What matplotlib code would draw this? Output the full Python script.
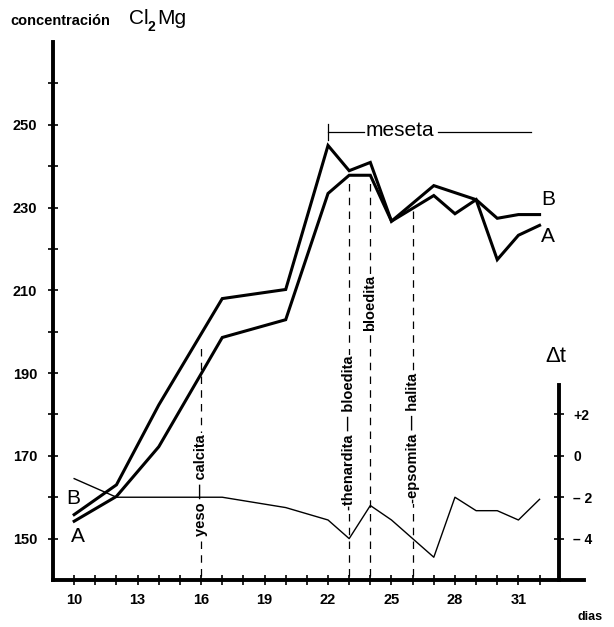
import matplotlib
matplotlib.use('Agg')
import matplotlib.pyplot as plt

plt.rcParams['font.family'] = ['Liberation Sans', 'DejaVu Sans']

# concentracion Cl2Mg, serie A y serie B
dias_b = [10, 12, 14, 17, 20, 22, 23, 24, 25, 26, 27, 29, 30, 31, 32]
conc_b = [155.8, 163, 182.3, 208, 210.2, 245, 238.9, 240.9, 226.7, 231, 235.3, 231.9, 227.4, 228.3, 228.3]
dias_a = [10, 12, 14, 17, 20, 22, 23, 24, 25, 26, 27, 28, 29, 30, 31, 32]
conc_a = [154.2, 160.2, 172.2, 198.6, 202.9, 233.4, 237.8, 237.8, 226.7, 229.8, 232.9, 228.5, 231.9, 217.4, 223.3, 225.7]

# delta t (eje derecho)
dias_dt = [10, 12, 17, 20, 22, 23, 24, 25, 26, 27, 28, 29, 30, 31, 32]
delta_t = [-1.1, -2, -2, -2.5, -3.1, -4, -2.4, -3.1, -4, -4.9, -2, -2.65, -2.65, -3.1, -2.1]

# lineas verticales de precipitacion
dias_sal = [16, 23, 24, 26]
tope_sal = [197, 236.5, 236.5, 230]
texto_sal = ['yeso \u2014 calcita', '-thenardita \u2014 bloedita', 'bloedita', '-epsomita \u2014 halita']
y_texto_sal = [163, 175.5, 207, 174.3]

xticks_lab = [10, 13, 16, 19, 22, 25, 28, 31]
yticks_lab = [150, 170, 190, 210, 230, 250]
dt_ticks = [2, 0, -2, -4]
dt_labels = ['+2', '0', '\u2013 2', '\u2013 4']

fig = plt.figure(figsize=(6.14, 6.27), dpi=100)
ax = fig.add_axes([53/614, 1-580/627, (584-53)/614, (580-42)/627])
ax.set_xlim(9.0, 34.1)
ax.set_ylim(140, 270)

for s in ['top', 'right']:
    ax.spines[s].set_visible(False)
for s in ['left', 'bottom']:
    ax.spines[s].set_linewidth(2.8)

ax.set_xticks(range(10, 33), minor=True)
ax.set_xticks(xticks_lab)
ax.set_xticklabels([str(v) for v in xticks_lab], fontweight='bold', fontsize=10.5)
ax.set_yticks(range(150, 270, 10), minor=True)
ax.set_yticks(yticks_lab)
ax.set_yticklabels([str(v) for v in yticks_lab], fontweight='bold', fontsize=10.5)
ax.tick_params(which='both', direction='inout', length=7, width=1.2, color='black')
ax.tick_params(axis='x', pad=6)
ax.tick_params(axis='y', pad=8)

ax.plot(dias_b, conc_b, color='black', lw=2.2, solid_joinstyle='miter')
ax.plot(dias_a, conc_a, color='black', lw=2.2, solid_joinstyle='miter')

# lineas discontinuas y nombres de sales
for d, t, txt, yt in zip(dias_sal, tope_sal, texto_sal, y_texto_sal):
    ax.plot([d, d], [141, t], color='black', lw=0.9, ls=(0, (6, 5)))
    ax.text(d, yt, txt, rotation=90, ha='center', va='center', fontsize=10.5, fontweight='bold',
            bbox=dict(facecolor='white', edgecolor='none', pad=0.5))

# meseta
ax.plot([22, 22], [246.2, 250.2], color='black', lw=0.9)
ax.plot([22, 23.7], [248.2, 248.2], color='black', lw=0.9)
ax.plot([27.2, 31.6], [248.2, 248.2], color='black', lw=0.9)
ax.text(25.4, 248.6, 'meseta', ha='center', va='center', fontsize=15)

ax.text(32.4, 231.9, 'B', ha='center', va='center', fontsize=15)
ax.text(32.4, 223, 'A', ha='center', va='center', fontsize=15)
ax.text(9.97, 159.6, 'B', ha='center', va='center', fontsize=15)
ax.text(10.2, 150.5, 'A', ha='center', va='center', fontsize=15)

# eje de delta t
ax2 = ax.twinx()
ax2.set_ylim(-6, 20)
for s in ['top', 'left', 'bottom']:
    ax2.spines[s].set_visible(False)
ax2.spines['right'].set_position(('data', 32.9))
ax2.spines['right'].set_bounds(-6, 3.4)
ax2.spines['right'].set_linewidth(2.8)
ax2.set_yticks(dt_ticks)
ax2.set_yticklabels(dt_labels, fontweight='bold', fontsize=10)
ax2.tick_params(direction='inout', length=7, width=1.2, pad=7)
ax2.plot(dias_dt, delta_t, color='black', lw=1.0)
ax2.text(32.75, 4.8, '\u0394t', ha='center', va='center', fontsize=16)

fig.text(10/614, 1-21/627, 'concentraci\u00f3n', fontsize=10.5, fontweight='bold', va='center')
fig.text(129/614, 1-19/627, 'Cl', fontsize=15, va='center')
fig.text(148/614, 1-27/627, '2', fontsize=10, fontweight='bold', va='center')
fig.text(157/614, 1-19/627, 'Mg', fontsize=15, va='center')
fig.text(590/614, 1-617/627, 'dias', fontsize=9, fontweight='bold', ha='center', va='center')

fig.savefig('out.png', dpi=100)
